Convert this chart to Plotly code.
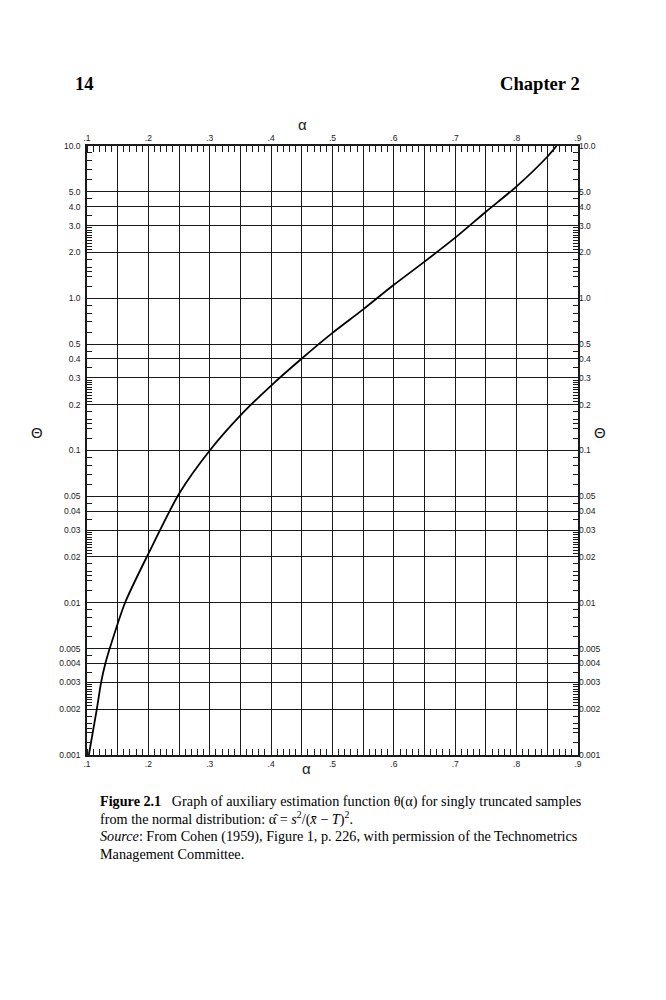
import plotly.graph_objects as go

# Curve theta(alpha)
alpha = [0.103, 0.116, 0.123, 0.130, 0.137, 0.162, 0.200, 0.250, 0.300, 0.350, 0.400,
         0.450, 0.500, 0.550, 0.600, 0.650, 0.700, 0.750, 0.800, 0.850, 0.865]
theta = [0.001, 0.002, 0.003, 0.004, 0.005, 0.010, 0.021, 0.052, 0.100, 0.170, 0.267,
         0.402, 0.592, 0.845, 1.225, 1.74, 2.50, 3.70, 5.43, 8.50, 10.0]

# Axis ticks
alpha_ticks = [0.1, 0.2, 0.3, 0.4, 0.5, 0.6, 0.7, 0.8, 0.9]
alpha_labels = [".1", ".2", ".3", ".4", ".5", ".6", ".7", ".8", ".9"]
alpha_half = [0.15, 0.25, 0.35, 0.45, 0.55, 0.65, 0.75, 0.85]
theta_ticks = [0.001, 0.002, 0.003, 0.004, 0.005, 0.01, 0.02, 0.03, 0.04, 0.05,
               0.1, 0.2, 0.3, 0.4, 0.5, 1, 2, 3, 4, 5, 10]
theta_labels = ["0.001", "0.002", "0.003", "0.004", "0.005", "0.01", "0.02", "0.03",
                "0.04", "0.05", "0.1", "0.2", "0.3", "0.4", "0.5", "1.0", "2.0", "3.0",
                "4.0", "5.0", "10.0"]
minor_mult = [1.2, 1.4, 1.5, 1.6, 1.8, 2.1, 2.2, 2.3, 2.4, 2.5, 2.6, 2.7, 2.8, 2.9,
              3.5, 4.5, 6, 7, 8, 9]
theta_minor = [m * 10 ** d for d in range(-3, 1) for m in minor_mult]

# page is drawn inside the default 8px body margin
OFF = 8
W, H = 666 - 2 * OFF, 1000 - 2 * OFF
# plot area in page pixels
L, R, T, B = 87, 578, 146, 755


def px(x, y):
    return (x - L) / (R - L), (B - y) / (B - T)


INK = "#1a1a1a"
tick_font = dict(family="Liberation Sans", size=8.5, color=INK)
minor_x = dict(dtick=0.01, tick0=0.1, ticks="inside", ticklen=6,
               tickcolor=INK, tickwidth=1, showgrid=False)
minor_y = dict(tickmode="array", tickvals=theta_minor, ticks="inside",
               ticklen=5, tickcolor=INK, tickwidth=1, showgrid=False)

fig = go.Figure()
fig.add_trace(go.Scatter(x=alpha, y=theta, mode="lines",
                         line=dict(color="black", width=1.8, shape="spline", smoothing=0.7),
                         showlegend=False, hoverinfo="skip"))
for xa in ("x2", "x3"):
    fig.add_trace(go.Scatter(x=[0.5], y=[1], xaxis=xa, yaxis="y2", mode="markers",
                             marker=dict(opacity=0), showlegend=False, hoverinfo="skip"))

fig.update_layout(
    width=W, height=H,
    margin=dict(l=L - OFF, r=W + OFF - R, t=T - OFF, b=H + OFF - B),
    paper_bgcolor="white", plot_bgcolor="white",
    xaxis=dict(range=[0.1, 0.9], tickmode="array", tickvals=alpha_ticks,
               ticktext=alpha_labels, showgrid=True, gridcolor=INK, gridwidth=1.3,
               ticks="", zeroline=False, showline=True, linecolor=INK, linewidth=1.6,
               mirror=True, tickfont=tick_font, minor=minor_x),
    xaxis2=dict(range=[0.1, 0.9], overlaying="x", side="top", anchor="y",
                tickmode="array", tickvals=alpha_ticks, ticktext=alpha_labels,
                showgrid=False, ticks="", zeroline=False, tickfont=tick_font,
                ticklabelstandoff=2, minor=minor_x),
    xaxis3=dict(range=[0.1, 0.9], overlaying="x", side="bottom", anchor="y",
                tickmode="array", tickvals=alpha_half, showticklabels=False,
                showgrid=True, gridcolor=INK, gridwidth=1.3, ticks="", zeroline=False),
    yaxis=dict(type="log", range=[-3, 1], tickmode="array", tickvals=theta_ticks,
               ticktext=theta_labels, showgrid=True, gridcolor=INK, gridwidth=1.3,
               ticks="", zeroline=False, showline=True, linecolor=INK, linewidth=1.6,
               mirror=True, tickfont=tick_font, ticklabelstandoff=3, minor=minor_y),
    yaxis2=dict(type="log", range=[-3, 1], overlaying="y", side="right", anchor="x",
                tickmode="array", tickvals=theta_ticks, ticktext=theta_labels,
                showgrid=False, ticks="", zeroline=False, tickfont=tick_font,
                minor=minor_y),
)


def note(text, x, y, size, family="Liberation Sans", xanchor="center", color=INK):
    ax, ay = px(x, y)
    fig.add_annotation(text=text, x=ax, y=ay, xref="paper", yref="paper",
                       xanchor=xanchor, yanchor="middle", showarrow=False,
                       font=dict(family=family, size=size, color=color))


# axis symbols
note("α", 302, 124, 15)
note("α", 306, 768, 15)
note("Θ", 37, 432, 15)
note("Θ", 600, 432, 15)

# page header
SERIF = "Liberation Serif"
note("<b>14</b>", 73, 84, 18.6, SERIF, "left", "black")
note("<b>Chapter 2</b>", 582, 84, 18.6, SERIF, "right", "black")

# caption
cap = [
    "<b>Figure 2.1</b>   Graph of auxiliary estimation function θ(α) for singly truncated samples",
    "from the normal distribution: α̂ = <i>s</i><sup>2</sup>/(<i>x̄</i> − <i>T</i>)<sup>2</sup>.",
    "<i>Source</i>: From Cohen (1959), Figure 1, p. 226, with permission of the Technometrics",
    "Management Committee.",
]
for i, line in enumerate(cap):
    note(line, 98, 801 + 17.5 * i, 14.2, SERIF, "left", "black")

fig.write_html("out.html")
